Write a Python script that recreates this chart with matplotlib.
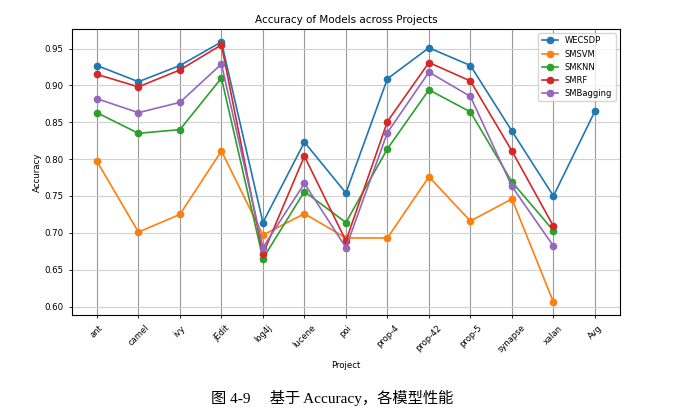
import matplotlib.pyplot as plt
import numpy as np

projects = ['ant', 'camel', 'ivy', 'jEdit', 'log4j', 'lucene', 'poi', 'prop-4',
            'prop-42', 'prop-5', 'synapse', 'xalan', 'Avg']
wecsdp = [0.927, 0.905, 0.927, 0.959, 0.714, 0.823, 0.754, 0.909, 0.951, 0.927, 0.838, 0.750, 0.865]
smsvm = [0.797, 0.701, 0.725, 0.811, 0.697, 0.726, 0.693, 0.693, 0.776, 0.716, 0.746, 0.606, np.nan]
smknn = [0.863, 0.835, 0.840, 0.910, 0.665, 0.756, 0.714, 0.814, 0.894, 0.864, 0.769, 0.703, np.nan]
smrf = [0.915, 0.898, 0.921, 0.955, 0.671, 0.804, 0.689, 0.851, 0.931, 0.906, 0.811, 0.709, np.nan]
smbagging = [0.882, 0.863, 0.877, 0.929, 0.680, 0.767, 0.680, 0.836, 0.918, 0.885, 0.763, 0.682, np.nan]

series = [('WECSDP', wecsdp), ('SMSVM', smsvm), ('SMKNN', smknn),
          ('SMRF', smrf), ('SMBagging', smbagging)]

fig = plt.figure(figsize=(6.73, 4.13), dpi=100)
ax = fig.add_axes([0.107, 0.237, 0.814, 0.693])

x = np.arange(len(projects))
for name, vals in series:
    ax.plot(x, vals, marker='o', markersize=4.5, linewidth=1.2, label=name)

ax.set_xticks(x)
ax.set_xticklabels(projects, rotation=45, fontsize=6)
ax.tick_params(axis='y', labelsize=6.2)
ax.tick_params(length=2.5, width=0.6)
ax.set_xlabel('Project', fontsize=6.2, labelpad=5)
ax.set_ylabel('Accuracy', fontsize=6.2, labelpad=2)
ax.set_title('Accuracy of Models across Projects', fontsize=7.5, pad=4)
ax.grid(True, axis='x', color='0.6', linewidth=0.8)
ax.grid(True, axis='y', color='0.82', linewidth=0.8)
for s in ax.spines.values():
    s.set_linewidth(0.8)
ax.legend(loc='upper right', fontsize=6, framealpha=0.8)

fig.text(0.493, 0.036, '图 4-9\u3000 基于 Accuracy，各模型性能', ha='center', va='center',
         fontsize=11, family=['Liberation Serif', 'Noto Sans CJK SC'])

fig.savefig('out.png', dpi=100)
